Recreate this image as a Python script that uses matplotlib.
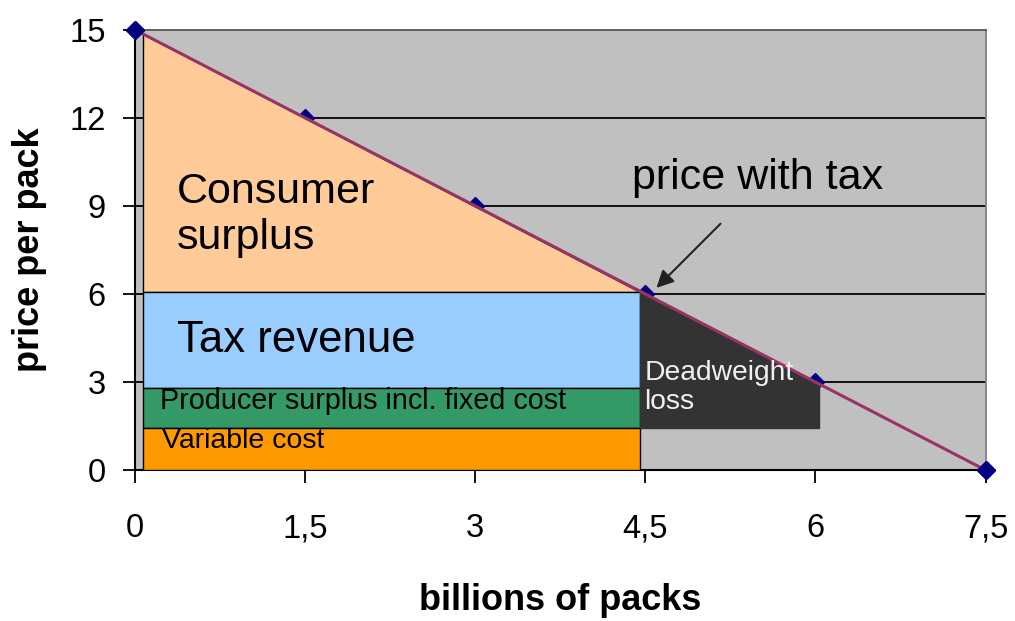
import numpy as np
import matplotlib.pyplot as plt

plt.rcParams['font.family'] = ['Liberation Sans', 'DejaVu Sans']

# =========================
# Data
# =========================

quantity = [0, 1.5, 3, 4.5, 6, 7.5]          # billions of packs
price = [15, 12, 9, 6, 3, 0]                 # demand curve

x_ticks = [0, 1.5, 3, 4.5, 6, 7.5]
x_labels = ["0", "1,5", "3", "4,5", "6", "7,5"]
y_ticks = [0, 3, 6, 9, 12, 15]

q_start = 0.07      # left edge of shaded areas
q_tax = 4.45        # quantity with tax
q_dwl = 6.03        # right edge of deadweight loss
p_tax = 6.08        # price with tax
p_producer = 2.8    # top of producer surplus
p_variable = 1.45   # top of variable cost

# =========================
# Figure
# =========================

fig = plt.figure(figsize=(10.15, 6.21), dpi=100)
ax = fig.add_axes([0.133, 0.243, 0.838, 0.709])
ax.set_facecolor("#C0C0C0")
ax.set_xlim(0, 7.5)
ax.set_ylim(0, 15)

for y in y_ticks[1:-1]:
    ax.axhline(y, color="black", lw=1.3, zorder=1)

ax.plot(quantity, price, linestyle="none", marker="D", ms=9,
        color="#000080", zorder=2, clip_on=False)


def demand(q):
    return 15 - 2 * q


edge = dict(edgecolor="black", lw=1.0, zorder=3)

# consumer surplus
ax.fill([q_start, q_start, q_tax], [demand(q_start), p_tax, p_tax],
        facecolor="#FFCC99", **edge)
# tax revenue
ax.fill([q_start, q_tax, q_tax, q_start], [p_producer, p_producer, p_tax, p_tax],
        facecolor="#99CCFF", **edge)
# producer surplus
ax.fill([q_start, q_tax, q_tax, q_start],
        [p_variable, p_variable, p_producer, p_producer],
        facecolor="#339966", **edge)
# variable cost
ax.fill([q_start, q_tax, q_tax, q_start], [0, 0, p_variable, p_variable],
        facecolor="#FF9900", **edge)
# deadweight loss
ax.fill([q_tax, q_tax, q_dwl, q_dwl], [demand(q_tax), p_variable, p_variable, demand(q_dwl)],
        facecolor="#333333", edgecolor="#333333", lw=1.0, zorder=3)

ax.plot(quantity, price, color="#993366", lw=2.2, zorder=4, clip_on=False)
ax.plot([quantity[0], quantity[-1]], [price[0], price[-1]], linestyle="none",
        marker="D", ms=9, color="#000080", zorder=5, clip_on=False)

# =========================
# Labels
# =========================

ax.text(0.37, 8.7, "Consumer\nsurplus", fontsize=31, va="center", ha="left",
        linespacing=1.2, zorder=6)
ax.text(0.37, 4.4, "Tax revenue", fontsize=31.5, va="center", ha="left", zorder=6)
ax.text(0.22, 2.35, "Producer surplus incl. fixed cost", fontsize=20.7,
        va="center", ha="left", zorder=6)
ax.text(0.24, 0.98, "Variable cost", fontsize=20.5, va="center", ha="left", zorder=6)
ax.text(4.49, 2.8, "Deadweight\nloss", fontsize=20.3, va="center", ha="left",
        color="#F0F0F0", linespacing=1.15, zorder=6)

ax.annotate("", xy=(4.58, 6.14), xytext=(5.18, 8.46),
            arrowprops=dict(arrowstyle="-|>", color="#222222", lw=1.5,
                            mutation_scale=26), zorder=6)
ax.text(4.38, 9.95, "price with tax", fontsize=31, va="center", ha="left", zorder=6)

ax.set_xticks(x_ticks)
ax.set_xticklabels(x_labels)
ax.set_yticks(y_ticks)
ax.tick_params(axis="both", direction="out", length=9, width=1.3, labelsize=23.5)
ax.tick_params(axis="x", pad=22)
ax.tick_params(axis="y", pad=12)

for side in ["left", "bottom"]:
    ax.spines[side].set_color("black")
    ax.spines[side].set_linewidth(1.5)
ax.spines["top"].set_color("#555555")
ax.spines["top"].set_linewidth(1.3)
ax.spines["right"].set_color("#808080")
ax.spines["right"].set_linewidth(1.3)

ax.set_xlabel("billions of packs", fontsize=26, fontweight="bold", labelpad=28)
ax.set_ylabel("price per pack", fontsize=26, fontweight="bold", labelpad=16)

fig.savefig("out.png", dpi=100)
